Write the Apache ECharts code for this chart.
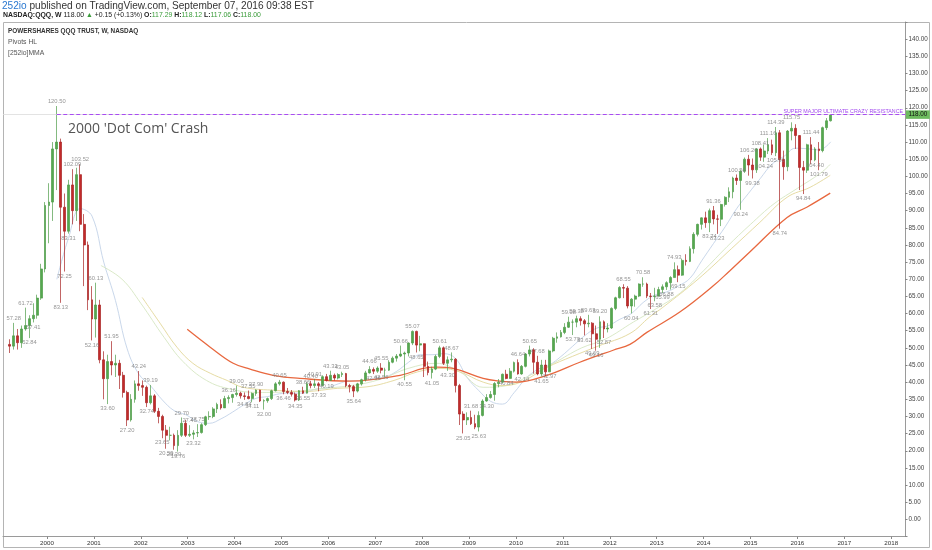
<!DOCTYPE html>
<html><head><meta charset="utf-8">
<script src="https://cdn.jsdelivr.net/npm/echarts@6/dist/echarts.min.js"></script>
<style>html,body{margin:0;padding:0;background:#fff}#c{width:932px;height:550px}</style>
</head><body><div id="c"></div><script>
// Monthly candles: [month, open, high, low, close]
const candles = [
['1999-03',51.0,52.5,48.5,50.5],['1999-04',50.5,57.28,49.5,53.5],['1999-05',53.5,55.5,49.5,51.5],['1999-06',51.5,56.5,50.0,55.5],
['1999-07',55.5,61.72,55.0,56.5],['1999-08',56.5,59.5,52.84,58.5],['1999-09',58.5,63.0,57.41,59.5],['1999-10',59.5,65.5,58.5,64.5],
['1999-11',64.5,74.5,64.0,73.0],['1999-12',73.0,92.5,72.0,91.5],
['2000-01',91.5,98.0,80.5,92.5],['2000-02',92.5,110.0,87.0,108.0],['2000-03',108.0,120.5,96.0,110.0],['2000-04',110.0,111.0,63.13,91.0],
['2000-05',91.0,95.0,72.25,84.0],['2000-06',84.0,99.0,83.31,97.5],['2000-07',97.5,102.09,86.0,90.0],['2000-08',90.0,102.5,87.0,100.5],
['2000-09',100.5,103.52,84.0,86.0],['2000-10',86.0,89.0,68.0,80.0],['2000-11',80.0,81.0,61.0,64.0],['2000-12',64.0,68.0,52.16,58.4],
['2001-01',58.4,69.0,53.0,62.5],['2001-02',62.5,64.0,45.5,46.5],['2001-03',46.5,49.0,35.0,41.0],['2001-04',41.0,48.0,33.6,46.0],
['2001-05',46.0,51.95,42.0,45.0],['2001-06',45.0,48.0,41.5,45.5],['2001-07',45.5,46.5,38.0,42.0],['2001-08',42.0,43.0,35.5,37.0],
['2001-09',37.0,37.5,27.2,29.0],['2001-10',29.0,36.5,28.5,35.0],['2001-11',35.0,40.5,34.0,39.5],['2001-12',39.5,43.24,37.5,39.0],
['2002-01',39.0,40.5,36.0,38.5],['2002-02',38.5,39.0,32.74,34.0],['2002-03',34.0,39.19,33.5,36.0],['2002-04',36.0,36.5,31.0,31.5],
['2002-05',31.5,32.5,28.0,30.0],['2002-06',30.0,30.5,23.65,26.0],['2002-07',26.0,27.5,20.59,24.5],['2002-08',24.5,27.0,23.0,24.5],
['2002-09',24.5,25.0,20.3,21.5],['2002-10',21.5,26.0,19.76,24.5],['2002-11',24.5,29.7,24.0,28.0],['2002-12',28.0,29.0,24.0,24.5],
['2003-01',24.5,27.45,24.0,24.8],['2003-02',24.8,26.0,23.32,25.2],['2003-03',25.2,27.75,24.0,25.3],['2003-04',25.3,28.0,25.0,27.6],
['2003-05',27.6,30.2,27.2,29.9],['2003-06',29.9,31.5,29.0,30.0],['2003-07',30.0,32.7,29.5,32.2],['2003-08',32.2,34.0,31.0,33.5],
['2003-09',33.5,35.0,32.0,32.5],['2003-10',32.5,36.0,32.5,35.2],['2003-11',35.2,36.16,33.8,35.5],['2003-12',35.5,36.6,34.0,36.4],
['2004-01',36.4,39.0,35.8,36.8],['2004-02',36.8,37.2,35.2,36.0],['2004-03',36.0,37.0,34.84,35.8],['2004-04',35.8,37.55,35.0,35.2],
['2004-05',35.2,37.0,34.11,36.7],['2004-06',36.7,37.9,36.0,37.7],['2004-07',37.7,37.8,34.2,34.5],['2004-08',34.5,35.0,32.0,34.6],
['2004-09',34.6,35.5,34.0,35.2],['2004-10',35.2,37.8,34.8,37.5],['2004-11',37.5,40.0,37.3,39.5],['2004-12',39.5,40.65,39.0,40.0],
['2005-01',40.0,40.2,36.46,37.3],['2005-02',37.3,38.3,36.5,37.0],['2005-03',37.0,37.7,35.8,36.5],['2005-04',36.5,37.0,34.35,34.8],
['2005-05',34.8,37.7,34.5,37.5],['2005-06',37.5,38.66,36.55,36.8],['2005-07',36.8,40.1,36.7,39.5],['2005-08',39.5,40.4,38.2,39.0],
['2005-09',39.0,40.91,38.3,39.5],['2005-10',39.5,40.0,37.33,39.0],['2005-11',39.0,42.0,38.8,41.6],['2005-12',41.6,42.4,40.19,40.5],
['2006-01',40.5,43.33,40.4,42.0],['2006-02',42.0,42.5,40.5,41.2],['2006-03',41.2,42.6,40.8,42.2],['2006-04',42.2,43.05,41.5,42.5],
['2006-05',42.5,42.7,38.5,39.0],['2006-06',39.0,39.5,37.0,38.7],['2006-07',38.7,39.2,35.64,37.4],['2006-08',37.4,39.8,37.0,39.5],
['2006-09',39.5,41.0,39.0,40.7],['2006-10',40.7,43.3,40.2,42.7],['2006-11',42.7,44.66,42.5,43.7],['2006-12',43.7,44.3,42.36,43.2],
['2007-01',43.2,44.6,42.7,44.1],['2007-02',44.1,45.55,42.56,43.5],['2007-03',43.5,44.2,41.5,43.5],['2007-04',43.5,46.4,43.3,45.8],
['2007-05',45.8,47.5,45.5,47.0],['2007-06',47.0,48.2,46.0,47.6],['2007-07',47.6,50.66,47.3,48.2],['2007-08',48.2,48.9,40.55,48.5],
['2007-09',48.5,51.6,47.5,51.4],['2007-10',51.4,55.07,50.8,54.8],['2007-11',54.8,55.0,48.65,50.8],['2007-12',50.8,53.5,49.0,51.2],
['2008-01',51.2,51.3,41.5,44.6],['2008-02',44.6,46.0,42.0,42.8],['2008-03',42.8,44.5,41.05,43.8],['2008-04',43.8,48.0,43.5,47.5],
['2008-05',47.5,50.61,47.0,50.0],['2008-06',50.0,50.4,45.0,45.5],['2008-07',45.5,47.5,43.3,46.5],['2008-08',46.5,48.67,45.8,46.7],
['2008-09',46.7,47.0,37.0,39.0],['2008-10',39.0,39.5,27.5,30.7],['2008-11',30.7,31.5,25.05,29.0],['2008-12',29.0,31.2,27.5,29.7],
['2009-01',29.7,31.68,27.5,27.9],['2009-02',27.9,30.5,26.3,26.9],['2009-03',26.9,31.5,25.63,30.3],['2009-04',30.3,35.0,30.0,34.5],
['2009-05',34.5,36.5,34.3,35.5],['2009-06',35.5,37.4,35.2,36.4],['2009-07',36.4,40.0,34.6,39.6],['2009-08',39.6,40.9,38.5,40.0],
['2009-09',40.0,42.5,39.7,42.3],['2009-10',42.3,43.6,40.84,41.1],['2009-11',41.1,44.1,41.0,43.2],['2009-12',43.2,46.0,42.8,45.7],
['2010-01',45.7,46.64,42.2,42.4],['2010-02',42.4,45.0,42.14,44.6],['2010-03',44.6,48.5,44.3,48.2],['2010-04',48.2,50.65,47.5,49.4],
['2010-05',49.4,49.9,42.5,45.8],['2010-06',45.8,47.68,42.0,42.4],['2010-07',42.4,46.5,41.65,45.0],['2010-08',45.0,46.5,41.77,43.0],
['2010-09',43.0,49.5,42.97,49.1],['2010-10',49.1,53.2,48.7,52.8],['2010-11',52.8,54.5,51.5,53.2],['2010-12',53.2,55.2,53.0,54.5],
['2011-01',54.5,57.2,54.0,56.0],['2011-02',56.0,59.08,55.8,57.5],['2011-03',57.5,58.3,53.73,57.5],['2011-04',57.5,59.38,56.0,58.5],
['2011-05',58.5,59.2,56.5,57.9],['2011-06',57.9,58.4,53.62,57.0],['2011-07',57.0,59.63,56.0,57.2],['2011-08',57.2,57.5,49.69,54.1],
['2011-09',54.1,56.5,49.16,52.5],['2011-10',52.5,59.2,50.0,57.6],['2011-11',57.6,58.0,52.87,55.5],['2011-12',55.5,57.2,54.5,55.8],
['2012-01',55.8,61.8,55.5,61.5],['2012-02',61.5,64.9,61.0,64.6],['2012-03',64.6,68.0,64.4,67.6],['2012-04',67.6,68.55,64.5,67.4],
['2012-05',67.4,68.0,61.5,62.2],['2012-06',62.2,64.5,60.04,64.2],['2012-07',64.2,65.5,62.0,65.1],['2012-08',65.1,68.8,64.8,68.6],
['2012-09',68.6,70.58,67.8,68.6],['2012-10',68.6,69.0,64.5,65.1],['2012-11',65.1,66.0,61.31,65.0],['2012-12',65.0,67.5,63.58,65.1],
['2013-01',65.1,67.8,65.0,67.0],['2013-02',67.0,68.5,65.99,67.8],['2013-03',67.8,69.4,66.88,69.0],['2013-04',69.0,70.9,67.0,70.5],
['2013-05',70.5,74.93,70.5,72.8],['2013-06',72.8,74.0,69.15,71.2],['2013-07',71.2,76.0,71.0,75.5],['2013-08',75.5,77.3,74.0,75.2],
['2013-09',75.2,79.6,75.0,78.9],['2013-10',78.9,83.7,77.5,83.1],['2013-11',83.1,86.2,82.5,86.0],['2013-12',86.0,88.0,84.5,87.9],
['2014-01',87.9,89.7,85.0,86.5],['2014-02',86.5,90.6,83.74,90.0],['2014-03',90.0,91.36,86.0,87.6],['2014-04',87.6,88.8,83.23,87.5],
['2014-05',87.5,92.0,85.5,91.8],['2014-06',91.8,94.2,91.2,93.9],['2014-07',93.9,96.8,92.5,95.5],['2014-08',95.5,99.9,93.6,99.5],
['2014-09',99.5,100.56,97.5,98.8],['2014-10',98.8,101.8,90.24,101.5],['2014-11',101.5,105.5,101.0,105.0],['2014-12',105.0,106.26,100.2,103.3],
['2015-01',103.3,105.2,99.38,101.9],['2015-02',101.9,108.2,101.0,108.0],['2015-03',108.0,108.41,104.5,105.6],['2015-04',105.6,109.3,104.24,107.4],
['2015-05',107.4,111.16,106.5,109.2],['2015-06',109.2,110.7,106.2,106.9],['2015-07',106.9,114.39,105.9,112.7],['2015-08',112.7,113.5,84.74,104.9],
['2015-09',104.9,107.5,99.0,102.8],['2015-10',102.8,113.5,101.5,113.2],['2015-11',113.2,115.75,110.5,114.0],['2015-12',114.0,115.2,108.0,111.9],
['2016-01',111.9,112.0,96.0,102.6],['2016-02',102.6,104.5,94.84,101.8],['2016-03',101.8,109.5,101.0,109.2],['2016-04',109.2,111.44,103.5,104.8],
['2016-05',104.8,108.5,104.4,108.0],['2016-06',108.0,110.0,101.79,107.5],['2016-07',107.5,114.5,107.0,114.2],['2016-08',114.2,117.0,113.5,116.2],
['2016-09',116.2,118.12,116.0,118.0]
];

// Pivot labels: [month, price, side, text]
const pivots = [
['1999-04',57.28,'H','57.28'],['1999-07',61.72,'H','61.72'],['1999-08',52.84,'L','52.84'],['1999-09',57.41,'L','57.41'],
['2000-03',120.50,'H','120.50'],['2000-04',63.13,'L','83.13'],['2000-05',72.25,'L','72.25'],['2000-06',83.31,'L','83.31'],
['2000-07',102.09,'H','102.09'],['2000-09',103.52,'H','103.52'],['2000-12',52.16,'L','52.16'],['2001-01',69.0,'H','60.13'],
['2001-04',33.60,'L','33.60'],['2001-05',51.95,'H','51.95'],['2001-09',27.20,'L','27.20'],['2001-12',43.24,'H','43.24'],
['2002-02',32.74,'L','32.74'],['2002-03',39.19,'H','39.19'],['2002-06',23.65,'L','23.65'],['2002-07',20.59,'L','20.59'],
['2002-09',20.30,'L','20.30'],['2002-10',19.76,'L','19.76'],['2002-11',29.70,'H','29.70'],['2003-01',27.45,'H','27.45'],
['2003-02',23.32,'L','23.32'],['2003-03',27.75,'H','27.75'],['2003-11',36.16,'H','36.16'],['2004-01',39.00,'H','39.00'],
['2004-03',34.84,'L','34.84'],['2004-04',37.55,'H','37.55'],['2004-05',34.11,'L','34.11'],['2004-06',37.90,'H','37.90'],
['2004-08',32.00,'L','32.00'],['2004-12',40.65,'H','40.65'],['2005-01',36.46,'L','36.46'],['2005-04',34.35,'L','34.35'],
['2005-06',38.66,'H','38.66'],['2005-06',36.55,'L','36.55'],['2005-08',40.40,'H','40.40'],['2005-09',40.91,'H','40.91'],
['2005-10',37.33,'L','37.33'],['2005-12',40.19,'L','40.19'],['2006-01',43.33,'H','43.33'],['2006-04',43.05,'H','43.05'],
['2006-07',35.64,'L','35.64'],['2006-11',44.66,'H','44.66'],['2006-12',42.36,'L','42.36'],['2007-02',45.55,'H','45.55'],
['2007-02',42.56,'L','42.56'],['2007-07',50.66,'H','50.66'],['2007-08',40.55,'L','40.55'],['2007-10',55.07,'H','55.07'],
['2007-11',48.65,'L','48.65'],['2008-03',41.05,'L','41.05'],['2008-05',50.61,'H','50.61'],['2008-07',43.30,'L','43.30'],
['2008-08',48.67,'H','48.67'],['2008-11',25.05,'L','25.05'],['2009-01',31.68,'H','31.68'],['2009-03',25.63,'L','25.63'],
['2009-05',34.30,'L','34.30'],['2009-10',40.84,'L','40.84'],['2010-01',46.64,'H','46.64'],['2010-02',42.14,'L','42.14'],
['2010-04',50.65,'H','50.65'],['2010-06',47.68,'H','47.68'],['2010-07',41.65,'L','41.65'],['2010-09',42.97,'L','42.97'],
['2011-02',59.08,'H','59.08'],['2011-03',53.73,'L','53.73'],['2011-04',59.38,'H','59.38'],['2011-06',53.62,'L','53.62'],
['2011-07',59.63,'H','59.63'],['2011-08',49.69,'L','49.69'],['2011-09',49.16,'L','49.16'],['2011-10',59.20,'H','59.20'],
['2011-11',52.87,'L','52.87'],['2012-04',68.55,'H','68.55'],['2012-06',60.04,'L','60.04'],['2012-09',70.58,'H','70.58'],
['2012-11',61.31,'L','61.31'],['2012-12',63.58,'L','63.58'],['2013-02',65.99,'L','65.99'],['2013-03',66.88,'L','66.88'],
['2013-05',74.93,'H','74.93'],['2013-06',69.15,'L','69.15'],['2014-02',83.74,'L','83.74'],['2014-03',91.36,'H','91.36'],
['2014-04',83.23,'L','83.23'],['2014-09',100.56,'H','100.56'],['2014-10',90.24,'L','90.24'],['2014-12',106.26,'H','106.26'],
['2015-01',99.38,'L','99.38'],['2015-03',108.41,'H','108.41'],['2015-04',104.24,'L','104.24'],['2015-05',111.16,'H','111.16'],
['2015-07',114.39,'H','114.39'],['2015-07',105.90,'L','105.90'],['2015-08',84.74,'L','84.74'],['2015-11',115.75,'H','115.75'],
['2016-02',94.84,'L','94.84'],['2016-04',111.44,'H','111.44'],['2016-05',104.40,'L','104.40'],['2016-06',101.79,'L','101.79']
];

// Moving averages (decimal year, value)
const ma200Years = [2002.99,2003.48,2003.97,2004.33,2004.82,2005.39,2006.46,2007.53,2008.02,2008.32,2008.66,2009.30,2009.66,2010.02,2010.66,2011.36,2012.07,2012.43,2012.79,2013.50,2014.20,2014.56,2014.99,2015.78,2016.20,2016.70];
const ma200 = [55.4,50.2,45.5,43.8,42.0,41.1,40.3,42.0,44.0,44.4,44.0,41.1,40.3,40.0,42.0,45.8,49.3,51.0,54.5,60.5,68.0,72.5,78.0,88.0,91.0,95.1];
const ma150Years = [2002.03,2002.41,2002.77,2003.11,2003.48,2003.84,2004.18,2004.90,2005.50,2006.20,2006.80,2007.40,2007.90,2008.40,2008.80,2009.30,2009.70,2010.10,2010.66,2011.20,2011.75,2012.43,2012.85,2013.13,2013.88,2014.60,2015.20,2015.78,2016.27,2016.70];
const ma150 = [64.7,57.2,50.2,45.5,42.6,40.5,38.5,37.6,37.3,38.2,38.6,40.5,43.0,44.0,43.0,40.0,39.0,40.0,44.3,47.5,50.5,54.2,59.0,61.8,70.0,79.0,86.6,93.9,96.8,100.3];
const ma100Years = [2001.15,2001.60,2002.00,2002.50,2002.90,2003.40,2003.90,2004.50,2005.20,2005.90,2006.50,2007.10,2007.70,2008.30,2008.80,2009.30,2009.80,2010.30,2010.80,2011.40,2011.90,2012.50,2013.00,2013.50,2014.00,2014.50,2015.00,2015.50,2016.00,2016.50,2016.70];
const ma100 = [74.0,70.0,63.0,53.0,46.0,40.5,38.0,37.0,37.2,38.2,39.0,40.8,44.0,45.5,43.0,38.5,39.0,42.0,45.5,50.0,52.5,57.5,61.5,66.0,72.5,79.5,86.0,92.0,96.5,101.0,103.5];
const ma50Years = [2000.21,2000.46,2000.71,2000.96,2001.21,2001.46,2001.71,2001.96,2002.21,2002.46,2002.71,2002.96,2003.21,2003.46,2003.71,2003.96,2004.21,2004.46,2004.71,2004.96,2005.21,2005.46,2005.71,2005.96,2006.21,2006.46,2006.71,2006.96,2007.21,2007.46,2007.71,2007.96,2008.21,2008.46,2008.71,2008.96,2009.21,2009.46,2009.71,2009.96,2010.21,2010.46,2010.71,2010.96,2011.21,2011.46,2011.71,2011.96,2012.21,2012.46,2012.71,2012.96,2013.21,2013.46,2013.71,2013.96,2014.21,2014.46,2014.71,2014.96,2015.21,2015.46,2015.71,2015.96,2016.21,2016.46,2016.71];
const ma50 = [70.0,82.1,90.6,88.4,75.0,63.8,49.7,42.3,38.9,34.8,31.7,30.5,28.5,28.0,29.3,31.3,33.5,35.3,35.8,36.6,36.8,36.8,37.9,38.25,39.5,40.4,40.4,41.1,41.5,43.2,45.8,48.0,48.0,48.3,46.9,41.3,37.5,34.4,33.6,36.95,41.1,43.7,45.0,47.5,50.5,53.5,55.7,56.4,58.3,60.0,63.2,65.4,66.3,68.0,70.3,75.4,80.4,85.3,90.7,95.1,99.4,103.6,105.8,108.2,108.05,107.7,110.05];

const yearTicks = [2000,2001,2002,2003,2004,2005,2006,2007,2008,2009,2010,2011,2012,2013,2014,2015,2016,2017,2018];
const resistanceLevel = 118.0;
const resistanceFrom = '2000-03';
const lastPrice = 118.0;
const lastOpen = '117.29', lastHigh = '118.12', lastLow = '117.06', lastClose = '118.00';
const lastChange = '+0.15 (+0.13%)';

// ---- helpers: x axis is a value axis in decimal years
function monthX(s){const p=s.split('-').map(Number);return p[0]+(p[1]-0.5)/12;}
const xMin = 1999.062, xMax = 2018.294;

const candleData = candles.map(r=>[monthX(r[0]), r[1], r[4], r[3], r[2]]);
const highs = pivots.filter(p=>p[2]==='H');
const lows = pivots.filter(p=>p[2]==='L');
function maLine(ys, vs, color, width){
  return {type:'line', data: ys.map((y,i)=>[y, vs[i]]), smooth:0.4, symbol:'none', silent:true,
    lineStyle:{color:color, width:width}, z:1};
}
const F = 'Liberation Sans, Arial, sans-serif';
const chart = echarts.init(document.getElementById('c'), null, {renderer:'canvas'});
chart.setOption({
  animation:false, backgroundColor:'#ffffff',
  grid:{left:3, right:27, top:22, bottom:13.5, containLabel:false},
  xAxis:{type:'value', min:xMin, max:xMax,
    axisLine:{show:true, onZero:false, lineStyle:{color:'#9a9a9a', width:1}},
    axisTick:{show:true, length:2.5, lineStyle:{color:'#888'}, customValues: yearTicks},
    axisLabel:{show:true, customValues: yearTicks, fontSize:6.2, color:'#333', fontFamily:F, margin:4,
      formatter:(v)=>String(Math.round(v))},
    splitLine:{show:false}},
  yAxis:{type:'value', position:'right', min:-5, max:145, interval:5, scale:false,
    axisLine:{show:true, lineStyle:{color:'#9a9a9a', width:1}},
    axisTick:{show:true, length:2.5, lineStyle:{color:'#888'}},
    axisLabel:{fontSize:6.3, color:'#444', fontFamily:F, margin:3.5,
      formatter:(v)=> (v<0||v>140)?'':v.toFixed(2)},
    splitLine:{show:false}},
  series:[
    maLine(ma50Years, ma50, '#c3d3e8', 0.9),
    maLine(ma100Years, ma100, '#d6e6c2', 0.9),
    maLine(ma150Years, ma150, '#e6dca4', 1),
    maLine(ma200Years, ma200, '#e8683f', 1.3),
    {type:'candlestick', data:candleData, encode:{x:0, y:[1,2,3,4]}, barWidth:2.3, z:3,
      itemStyle:{color:'#55a84f', color0:'#c22a2a', borderColor:'#4f9c49', borderColor0:'#a82323', borderWidth:0.7},
      markLine:{symbol:'none', silent:true, animation:false,
        data:[
          {yAxis:lastPrice, lineStyle:{color:'#dcdcdc', type:'solid', width:0.8},
           label:{show:true, position:'end', formatter: lastPrice.toFixed(2), distance:1,
             backgroundColor:'#6dbb5f', color:'#111', fontSize:6.3, fontFamily:F, padding:[1.5,2.5,1,2.5]}},
          [{coord:[monthX(resistanceFrom), resistanceLevel], lineStyle:{color:'#a94cf2', type:[4,2.5], width:1.1},
            label:{show:true, position:'insideEndTop', formatter:'SUPER MAJOR ULTIMATE CRAZY RESISTANCE',
              color:'#a24aee', fontSize:5.3, fontFamily:F, distance:[2,1]}},
           {coord:[xMax, resistanceLevel]}]
        ]}},
    {type:'scatter', data: highs.map(p=>[monthX(p[0]), p[1]]), symbolSize:0, silent:true, z:4,
      label:{show:true, position:'top', distance:1.5, fontSize:5.8, color:'#7a7a7a', fontFamily:F,
        formatter:(o)=>highs[o.dataIndex][3]}},
    {type:'scatter', data: lows.map(p=>[monthX(p[0]), p[1]]), symbolSize:0, silent:true, z:4,
      label:{show:true, position:'bottom', distance:1.5, fontSize:5.8, color:'#7a7a7a', fontFamily:F,
        formatter:(o)=>lows[o.dataIndex][3]}}
  ],
  graphic:[
    {type:'rect', shape:{x:3.5, y:22.5, width:926, height:525}, style:{fill:'none', stroke:'#b4b4b4', lineWidth:1}, silent:true, z:-1},
    {type:'text', left:2, top:1, style:{text:'{a|252io} published on TradingView.com, September 07, 2016 09:38 EST',
      fontSize:10.1, fontFamily:F, fill:'#333', rich:{a:{fill:'#2a78d0', fontSize:10.1, fontFamily:F}}}},
    {type:'text', left:3, top:11.5, style:{
      text:'{b|NASDAQ:QQQ, W} 118.00 {g|▲} '+lastChange+' {b|O:}{g|'+lastOpen+'} {b|H:}{g|'+lastHigh+'} {b|L:}{g|'+lastLow+'} {b|C:}{g|'+lastClose+'}',
      fontSize:6.9, fontFamily:F, fill:'#222',
      rich:{b:{fontWeight:'bold', fontSize:6.9, fontFamily:F, fill:'#222'}, g:{fill:'#3a9c3a', fontSize:6.9, fontFamily:F}}}},
    {type:'text', left:8, top:28.5, style:{text:'POWERSHARES QQQ TRUST, W, NASDAQ', fontSize:6.4, fontWeight:'bold', fontFamily:F, fill:'#333'}},
    {type:'text', left:8, top:39, style:{text:'Pivots HL', fontSize:6.8, fontFamily:F, fill:'#555'}},
    {type:'text', left:8, top:49.5, style:{text:'[252io]MMA', fontSize:6.8, fontFamily:F, fill:'#555'}},
    {type:'text', left:68, top:122, style:{text:"2000 'Dot Com' Crash", fontSize:14, fontFamily:'Open Sans, Liberation Sans, sans-serif', fill:'#555'}}
  ]
});
</script></body></html>
